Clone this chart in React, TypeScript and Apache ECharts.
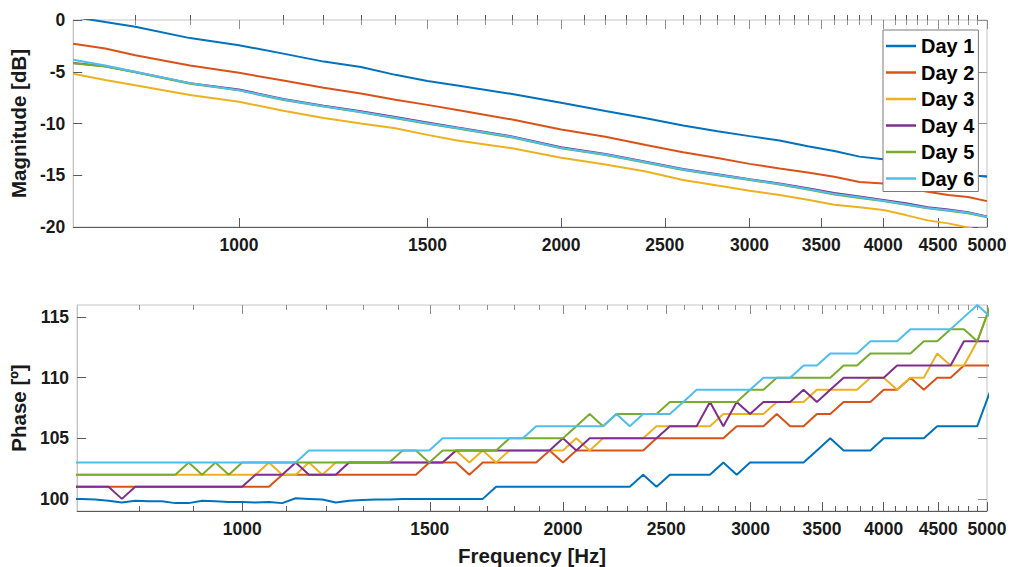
import React, { useEffect, useRef } from "react";
import * as echarts from "echarts";

// ---------- data ----------
const seriesNames = ["Day 1", "Day 2", "Day 3", "Day 4", "Day 5", "Day 6"];
const colors = ["#0072BD", "#D95319", "#EDB120", "#7E2F8E", "#77AC30", "#4DBEEE"];

// magnitude frequencies [Hz]
const magFreqs = [700, 750, 800, 900, 1000, 1100, 1200, 1300, 1400, 1500, 1600, 1800, 2000, 2200, 2400, 2600, 2800, 3000, 3200, 3400, 3600, 3800, 4000, 4200, 4400, 4600, 4800, 5000];

// magnitude [dB]
const magDay1 = [0.3, -0.2, -0.66, -1.75, -2.43, -3.25, -4.02, -4.55, -5.3, -5.9, -6.33, -7.15, -8.0, -8.8, -9.5, -10.2, -10.75, -11.22, -11.65, -12.2, -12.65, -13.2, -13.45, -13.9, -14.3, -14.6, -14.95, -15.15];
const magDay2 = [-2.3, -2.75, -3.4, -4.4, -5.1, -5.85, -6.55, -7.1, -7.7, -8.2, -8.7, -9.62, -10.58, -11.28, -12.07, -12.77, -13.33, -13.9, -14.34, -14.74, -15.15, -15.65, -15.8, -16.2, -16.6, -16.9, -17.1, -17.5];
const magDay3 = [-5.2, -5.8, -6.3, -7.24, -7.9, -8.77, -9.46, -9.99, -10.46, -11.1, -11.64, -12.4, -13.3, -13.97, -14.63, -15.45, -16.0, -16.5, -16.9, -17.37, -17.84, -18.1, -18.36, -18.85, -19.36, -19.65, -20.05, -20.5];
const magDay4 = [-4.15, -4.48, -5.02, -6.1, -6.72, -7.62, -8.28, -8.82, -9.38, -9.9, -10.38, -11.25, -12.3, -12.95, -13.7, -14.4, -14.9, -15.38, -15.8, -16.25, -16.72, -17.05, -17.38, -17.7, -18.08, -18.3, -18.58, -18.98];
const magDay5 = [-4.19, -4.5, -5.05, -6.15, -6.8, -7.72, -8.36, -8.92, -9.5, -10.02, -10.48, -11.35, -12.4, -13.05, -13.8, -14.5, -15.0, -15.45, -15.9, -16.38, -16.85, -17.2, -17.5, -17.85, -18.2, -18.42, -18.68, -19.05];
const magDay6 = [-3.85, -4.4, -5.0, -6.1, -6.78, -7.69, -8.33, -8.88, -9.45, -9.98, -10.44, -11.3, -12.36, -13.0, -13.74, -14.45, -14.95, -15.42, -15.85, -16.32, -16.8, -17.12, -17.46, -17.81, -18.16, -18.38, -18.62, -19.0];

// phase frequencies [Hz] (1/24 octave)
const phaseFreqs = [
  686.6, 707.1, 727.8, 749.2, 771.1, 793.7, 817.0, 840.9, 865.5, 890.9,
  917.0, 943.9, 971.5, 1000, 1029.3, 1059.5, 1090.5, 1122.5, 1155.3, 1189.2,
  1224.1, 1259.9, 1296.8, 1334.8, 1374.0, 1414.2, 1455.7, 1498.3, 1542.2, 1587.4,
  1633.9, 1681.8, 1731.1, 1781.8, 1834.0, 1887.7, 1943.1, 2000, 2058.6, 2118.9,
  2181.0, 2244.9, 2310.7, 2378.4, 2448.1, 2519.8, 2593.7, 2669.7, 2747.9, 2828.4,
  2911.3, 2996.6, 3084.4, 3174.8, 3267.8, 3363.6, 3462.2, 3563.6, 3668.0, 3775.5,
  3886.1, 4000, 4117.2, 4237.9, 4362.0, 4489.8, 4621.4, 4756.8, 4896.2, 5039.7,
];

// phase [deg]
const phaseDay1 = [
  100.0, 100.0, 99.95, 99.85, 99.7, 99.85, 99.8, 99.8, 99.65, 99.65,
  99.85, 99.8, 99.75, 99.75, 99.7, 99.75, 99.65, 100.05, 100.0, 99.95,
  99.7, 99.85, 99.9, 99.95, 99.95, 100, 100, 100, 100, 100,
  100, 100, 101, 101, 101, 101, 101, 101, 101, 101,
  101, 101, 101, 102, 101, 102, 102, 102, 102, 103,
  102, 103, 103, 103, 103, 103, 104, 105, 104, 104,
  104, 105, 105, 105, 105, 106, 106, 106, 106, 109,
];
const phaseDay2 = [
  101, 101, 101, 101, 101, 101, 101, 101, 101, 101,
  101, 101, 101, 101, 101, 101, 102, 102, 102, 102,
  102, 102, 102, 102, 102, 102, 102, 103, 103, 103,
  102, 103, 103, 103, 103, 103, 104, 103, 104, 104,
  104, 104, 104, 104, 105, 105, 105, 105, 105, 105,
  106, 106, 106, 107, 106, 106, 107, 107, 108, 108,
  108, 109, 109, 110, 109, 110, 110, 111, 111, 111,
];
const phaseDay3 = [
  102, 102, 102, 102, 102, 102, 102, 102, 102, 102,
  102, 102, 102, 102, 102, 103, 102, 102, 103, 102,
  103, 103, 103, 103, 103, 103, 103, 103, 103, 104,
  103, 104, 103, 104, 104, 104, 104, 104, 105, 104,
  105, 105, 105, 105, 106, 106, 106, 106, 106, 107,
  107, 107, 107, 108, 108, 108, 109, 109, 109, 109,
  110, 110, 109, 110, 110, 112, 111, 111, 113, 116,
];
const phaseDay4 = [
  101, 101, 101, 101, 100, 101, 101, 101, 101, 101,
  101, 101, 101, 101, 102, 102, 102, 103, 102, 102,
  102, 103, 103, 103, 103, 103, 103, 103, 103, 104,
  104, 104, 104, 104, 104, 104, 104, 105, 104, 105,
  105, 105, 105, 105, 105, 106, 106, 106, 108, 106,
  108, 107, 108, 108, 108, 109, 108, 109, 110, 110,
  110, 110, 111, 111, 111, 111, 111, 113, 113, 113,
];
const phaseDay5 = [
  102, 102, 102, 102, 102, 102, 102, 102, 102, 103,
  102, 103, 102, 103, 103, 103, 103, 103, 103, 103,
  103, 103, 103, 103, 103, 104, 104, 103, 104, 104,
  104, 104, 104, 105, 105, 105, 105, 105, 106, 107,
  106, 107, 107, 107, 107, 108, 108, 108, 108, 108,
  108, 109, 109, 110, 110, 110, 110, 110, 111, 111,
  112, 112, 112, 112, 113, 113, 114, 114, 113, 116,
];
const phaseDay6 = [
  103, 103, 103, 103, 103, 103, 103, 103, 103, 103,
  103, 103, 103, 103, 103, 103, 103, 103, 104, 104,
  104, 104, 104, 104, 104, 104, 104, 104, 105, 105,
  105, 105, 105, 105, 105, 106, 106, 106, 106, 106,
  106, 107, 106, 107, 107, 107, 108, 109, 109, 109,
  109, 109, 110, 110, 110, 111, 111, 112, 112, 112,
  113, 113, 113, 114, 114, 114, 114, 115, 116, 115,
];

// ticks
const xMajorTicks = [1000, 1500, 2000, 2500, 3000, 3500, 4000, 4500, 5000];
const xTickLabels = ["1000", "1500", "2000", "2500", "3000", "3500", "4000", "4500", "5000"];
const xMinorTicks = [800, 900, 1100, 1200, 1300, 1400, 1600, 1700, 1800, 1900, 2100, 2200, 2300, 2400, 2600, 2700, 2800, 2900, 3100, 3200, 3300, 3400, 3600, 3700, 3800, 3900, 4100, 4200, 4300, 4400, 4600, 4700, 4800, 4900];
const magTicks = [-20, -15, -10, -5, 0];
const phaseTicks = [100, 105, 110, 115];

const magData = [magDay1, magDay2, magDay3, magDay4, magDay5, magDay6];
const phaseData = [phaseDay1, phaseDay2, phaseDay3, phaseDay4, phaseDay5, phaseDay6];

// ---------- styling ----------
const FONT = "'Liberation Sans', Arial, Helvetica, sans-serif";
const TXT = "#1a1a1a";
const BOX = "#c4c4c4";
const TICK_DARK = "#5a5a5a";
const TICK_LIGHT = "#8f8f8f";

const labelStyle = { fontFamily: FONT, fontSize: 17.5, fontWeight: "bold" as const, color: TXT };
const nameStyle = { fontFamily: FONT, fontSize: 20.5, fontWeight: "bold" as const, color: TXT };

function makeXAxes(gridIndex: number, name?: string) {
  const base = {
    type: "log",
    logBase: 10,
    min: 700,
    max: 5000,
    gridIndex,
    splitLine: { show: false },
    minorTick: { show: false },
    minorSplitLine: { show: false },
  };
  return [
    {
      ...base,
      position: "bottom",
      axisLine: { show: true, onZero: false, lineStyle: { color: TICK_DARK, width: 1 } },
      axisTick: { show: true, inside: true, length: 9, customValues: xMajorTicks, lineStyle: { color: TICK_DARK } },
      axisLabel: {
        show: true,
        customValues: xMajorTicks,
        formatter: (v: number) => {
          const i = xMajorTicks.indexOf(Math.round(v));
          return i >= 0 ? xTickLabels[i] : String(Math.round(v));
        },
        margin: 9,
        ...labelStyle,
      },
      ...(name
        ? { name, nameLocation: "middle", nameGap: 34, nameTextStyle: nameStyle }
        : {}),
    },
    {
      ...base,
      position: "bottom",
      axisLine: { show: false },
      axisTick: { show: true, inside: true, length: 5, customValues: xMinorTicks, lineStyle: { color: TICK_DARK } },
      axisLabel: { show: false },
    },
    {
      ...base,
      position: "top",
      axisLine: { show: false },
      axisTick: { show: true, inside: true, length: 9, customValues: xMajorTicks, lineStyle: { color: TICK_LIGHT } },
      axisLabel: { show: false },
    },
    {
      ...base,
      position: "top",
      axisLine: { show: false },
      axisTick: { show: true, inside: true, length: 5, customValues: xMinorTicks, lineStyle: { color: TICK_LIGHT } },
      axisLabel: { show: false },
    },
  ];
}

function makeYAxes(gridIndex: number, min: number, max: number, ticks: number[], name: string, nameGap: number) {
  return [
    {
      type: "value",
      gridIndex,
      position: "left",
      min,
      max,
      splitLine: { show: false },
      axisLine: { show: true, onZero: false, lineStyle: { color: BOX } },
      axisTick: { show: true, inside: true, length: 9, customValues: ticks, lineStyle: { color: TICK_DARK } },
      axisLabel: { show: true, customValues: ticks, margin: 8, ...labelStyle },
      name,
      nameLocation: "middle",
      nameGap,
      nameTextStyle: nameStyle,
    },
    {
      type: "value",
      gridIndex,
      position: "right",
      min,
      max,
      splitLine: { show: false },
      axisLine: { show: false },
      axisTick: { show: true, inside: true, length: 9, customValues: ticks, lineStyle: { color: TICK_LIGHT } },
      axisLabel: { show: false },
    },
  ];
}

export default function App() {
  const ref = useRef<HTMLDivElement>(null);

  useEffect(() => {
    if (!ref.current) return;
    const chart = echarts.init(ref.current, undefined, { renderer: "svg" });

    const magSeries = seriesNames.map((n, k) => ({
      name: n,
      type: "line",
      xAxisIndex: 0,
      yAxisIndex: 0,
      symbol: "none",
      showSymbol: false,
      clip: true,
      silent: true,
      color: colors[k],
      lineStyle: { width: 2, color: colors[k] },
      data: magFreqs.map((f, i) => [f, magData[k][i]]),
      z: 3,
    }));
    const phaseSeries = seriesNames.map((n, k) => ({
      name: n,
      type: "line",
      xAxisIndex: 4,
      yAxisIndex: 2,
      symbol: "none",
      showSymbol: false,
      clip: true,
      silent: true,
      color: colors[k],
      lineStyle: { width: 2, color: colors[k] },
      data: phaseFreqs.map((f, i) => [f, phaseData[k][i]]),
      z: 3,
    }));

    const option: any = {
      animation: false,
      backgroundColor: "#ffffff",
      textStyle: { fontFamily: FONT },
      grid: [
        { left: 72, top: 20, width: 915, height: 207, show: true, borderColor: BOX, borderWidth: 1, backgroundColor: "transparent", containLabel: false },
        { left: 72, top: 305, width: 915, height: 206, show: true, borderColor: BOX, borderWidth: 1, backgroundColor: "transparent", containLabel: false },
      ],
      xAxis: [...makeXAxes(0), ...makeXAxes(1, "Frequency [Hz]")],
      yAxis: [
        ...makeYAxes(0, -20, 0, magTicks, "Magnitude [dB]", 38),
        ...makeYAxes(1, 99, 116, phaseTicks, "Phase [º]", 40),
      ],
      legend: {
        show: true,
        orient: "vertical",
        left: 883,
        top: 30,
        data: seriesNames,
        icon: "rect",
        backgroundColor: "#ffffff",
        borderColor: "#7a7a7a",
        borderWidth: 1,
        borderRadius: 0,
        padding: [6, 4, 3, 3],
        itemWidth: 30,
        itemHeight: 2.5,
        itemGap: 6.5,
        selectedMode: false,
        textStyle: { fontFamily: FONT, fontSize: 20, lineHeight: 20, fontWeight: "bold", color: "#000000" },
        z: 10,
      },
      series: [...magSeries, ...phaseSeries],
    };

    chart.setOption(option);
    return () => {
      chart.dispose();
    };
  }, []);

  return (
    <div
      ref={ref}
      style={{ position: "fixed", left: 0, top: 0, width: 1011, height: 567, background: "#fff" }}
    />
  );
}
